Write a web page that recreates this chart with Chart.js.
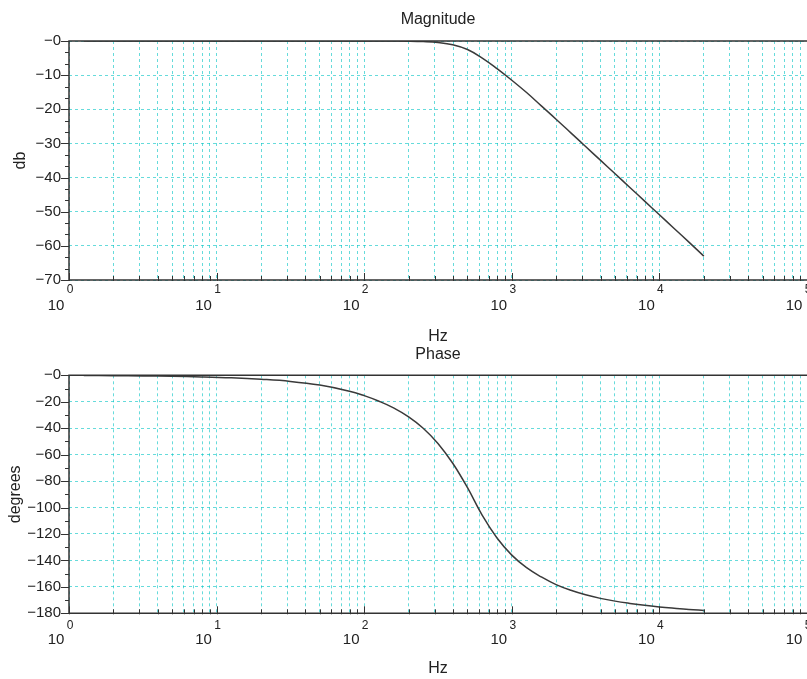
<!DOCTYPE html>
<html>
<head>
<meta charset="utf-8">
<script src="https://cdn.jsdelivr.net/npm/chart.js@4/dist/chart.umd.min.js"></script>
<style>
  html, body { margin: 0; padding: 0; background: #fff; overflow: hidden; }
  body { width: 807px; height: 679px; position: relative; }
  canvas { position: absolute; left: 0; }
  #magChart { top: 0; }
  #phaseChart { top: 345px; }
</style>
</head>
<body>
<canvas id="magChart" width="880" height="347"></canvas>
<canvas id="phaseChart" width="880" height="334"></canvas>
<script>
// bode data
const freqHz = [1.26, 2, 3.16, 5, 7.9, 12.6, 20, 31.6, 50, 79.4,
  100, 126, 158, 200, 251, 316, 398, 501, 631, 794,
  1000, 1259, 1585, 1995, 2512, 3162, 3981, 5012, 6310, 7943,
  10000, 12589, 15849, 20000];
const magnitudeDb = [0, 0, 0, 0, 0, 0, 0, 0, 0, 0,
  0, 0, -0.02, -0.06, -0.18, -0.45, -1.1, -2.5, -5.0, -8.1,
  -11.5, -15.1, -19.0, -22.9, -26.9, -30.9, -34.9, -38.9, -42.9, -46.9,
  -50.9, -54.9, -58.9, -63.0];
const phaseDeg = [-0.2, -0.3, -0.5, -0.75, -1.2, -1.9, -3.0, -4.6, -7.4, -12,
  -15.4, -19.6, -24.6, -31.4, -40, -51.5, -66.5, -85, -106, -123,
  -136, -145.5, -152.5, -158.3, -162.6, -166, -168.7, -170.8, -172.5, -174,
  -175.2, -176.2, -177.1, -177.8];

const decades = [0, 1, 2, 3, 4, 5];

const FONT = "'Liberation Sans', Arial, sans-serif";
const GRID = 'rgba(0, 195, 195, 0.6)';
const INK = '#333';

// every 1..9 x 10^n mark on the frequency axis
function logTicks() {
  const out = [];
  for (let n = 0; n < decades.length - 1; n++) {
    for (let m = 1; m <= 9; m++) out.push({ value: m * Math.pow(10, decades[n]) });
  }
  out.push({ value: Math.pow(10, decades[decades.length - 1]) });
  return out;
}

// frame, tick marks and 10^n labels
const axisFrame = {
  id: 'axisFrame',
  afterDraw(chart, args, opts) {
    const { ctx, chartArea: a, scales: { x, y } } = chart;
    ctx.save();
    ctx.strokeStyle = INK;
    ctx.lineWidth = 1.5;
    ctx.beginPath();
    ctx.moveTo(a.right + 2, a.top);
    ctx.lineTo(a.left, a.top);
    ctx.lineTo(a.left, a.bottom);
    ctx.lineTo(a.right + 2, a.bottom);
    ctx.stroke();

    ctx.lineWidth = 1;
    ctx.beginPath();
    const minor = opts.yStep / opts.ySub;
    const count = Math.round((y.max - y.min) / minor);
    for (let i = 0; i <= count; i++) {
      const py = Math.round(y.getPixelForValue(y.min + i * minor)) + 0.5;
      const len = i % opts.ySub === 0 ? 8 : 4;
      ctx.moveTo(a.left - len, py);
      ctx.lineTo(a.left, py);
    }
    x.ticks.forEach(t => {
      const px = Math.round(x.getPixelForValue(t.value)) + 0.5;
      const major = Number.isInteger(Math.log10(t.value));
      ctx.moveTo(px, a.bottom + 1);
      ctx.lineTo(px, a.bottom - (major ? 7 : 4));
    });
    ctx.stroke();

    ctx.fillStyle = '#222';
    ctx.textAlign = 'center';
    ctx.textBaseline = 'middle';
    decades.forEach(d => {
      const px = x.getPixelForValue(Math.pow(10, d));
      ctx.font = '15px ' + FONT;
      ctx.fillText('10', px - 13, a.bottom + opts.baseGap);
      ctx.font = '12px ' + FONT;
      ctx.fillText(String(d), px + 1, a.bottom + opts.expGap);
    });
    ctx.restore();
  }
};

function bodeChart(id, title, titlePad, values, yTitle, yTitlePad, yMin, yStep, ySub, xHeight, gaps) {
  return new Chart(document.getElementById(id), {
    type: 'line',
    data: {
      datasets: [{
        data: freqHz.map((f, i) => ({ x: f, y: values[i] })),
        borderColor: '#3a3a3a',
        borderWidth: 1.5,
        pointRadius: 0,
        tension: 0.4,
        fill: false
      }]
    },
    options: {
      responsive: false,
      animation: false,
      layout: { padding: { left: 0, right: 73, top: 0, bottom: 0 } },
      plugins: {
        legend: { display: false },
        tooltip: { enabled: false },
        title: {
          display: true,
          text: title,
          fullSize: false,
          color: '#222',
          font: { family: FONT, size: 16, weight: 'normal' },
          padding: titlePad
        },
        axisFrame: { yStep: yStep, ySub: ySub, baseGap: gaps[0], expGap: gaps[1] }
      },
      scales: {
        x: {
          type: 'logarithmic',
          min: 1,
          max: 1e5,
          afterBuildTicks: s => { s.ticks = logTicks(); },
          afterFit: s => { s.height = xHeight; },
          ticks: { display: false, autoSkip: false },
          grid: { color: GRID, lineWidth: 1, drawTicks: false },
          border: { display: false, dash: [3, 3] },
          title: {
            display: true,
            text: 'Hz',
            color: '#222',
            font: { family: FONT, size: 16 },
            padding: { top: 0, bottom: 0.4 }
          }
        },
        y: {
          min: yMin,
          max: 0,
          afterFit: s => { s.width = 69; },
          ticks: {
            stepSize: yStep,
            padding: 8,
            color: '#222',
            font: { family: FONT, size: 15 },
            callback: v => '\u2212' + Math.abs(v)
          },
          grid: { color: GRID, lineWidth: 1, drawTicks: false },
          border: { display: false, dash: [3, 3] },
          title: {
            display: true,
            text: yTitle,
            color: '#222',
            font: { family: FONT, size: 16 },
            padding: { top: yTitlePad, bottom: 0 }
          }
        }
      }
    },
    plugins: [axisFrame]
  });
}

bodeChart('magChart', 'Magnitude', { top: 10, bottom: 11.8 }, magnitudeDb, 'db', 11,
  -70, 10, 3, 67, [26, 10]);
bodeChart('phaseChart', 'Phase', { top: 0.4, bottom: 10.7 }, phaseDeg, 'degrees', 5.5,
  -180, 20, 2, 65.7, [27, 12]);
</script>
</body>
</html>
